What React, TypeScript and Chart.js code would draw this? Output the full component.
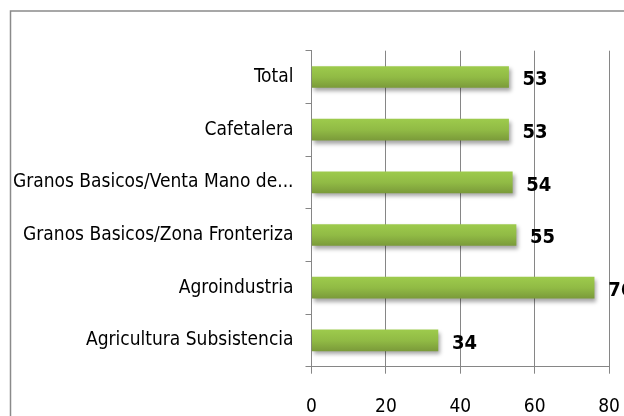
import React, { useEffect, useRef } from "react";
import { Chart, registerables } from "chart.js";
Chart.register(...registerables);

const categories = [
  "Total",
  "Cafetalera",
  "Granos Basicos/Venta Mano de...",
  "Granos Basicos/Zona Fronteriza",
  "Agroindustria",
  "Agricultura Subsistencia",
];
const values = [53, 53, 54, 55, 76, 34];
const xMin = 0;
const xMax = 80;
const xStep = 20;

const FONT = "'Liberation Sans Narrow', 'DejaVu Sans Condensed', 'Arial Narrow', sans-serif";
const AXIS = "#868686";

const framePlugin = {
  id: "frame",
  beforeDraw(chart: any) {
    const ctx = chart.ctx;
    ctx.save();
    ctx.fillStyle = "#ffffff";
    ctx.fillRect(0, 0, chart.width, chart.height);
    ctx.strokeStyle = "#8a8a8a";
    ctx.lineWidth = 1.5;
    ctx.strokeRect(10.5, 11, chart.width + 50, chart.height + 50);
    ctx.restore();
  },
};

const shadowPlugin = {
  id: "barShadow",
  beforeDatasetsDraw(chart: any) {
    const ctx = chart.ctx;
    ctx.save();
    ctx.shadowColor = "rgba(0,0,0,0.35)";
    ctx.shadowBlur = 4;
    ctx.shadowOffsetX = 2;
    ctx.shadowOffsetY = 3;
  },
  afterDatasetsDraw(chart: any) {
    chart.ctx.restore();
  },
};

const labelPlugin = {
  id: "valueLabels",
  afterDatasetsDraw(chart: any) {
    const ctx = chart.ctx;
    const meta = chart.getDatasetMeta(0);
    ctx.save();
    ctx.font = `bold 20px ${FONT}`;
    ctx.fillStyle = "#000";
    ctx.textAlign = "left";
    ctx.textBaseline = "middle";
    meta.data.forEach((el: any, i: number) => {
      ctx.fillText(String(values[i]), el.x + 14, el.y + 3);
    });
    ctx.restore();
  },
};

export default function App() {
  const ref = useRef<HTMLCanvasElement>(null);
  useEffect(() => {
    if (!ref.current) return;
    const chart = new Chart(ref.current, {
      type: "bar",
      data: {
        labels: categories,
        datasets: [
          {
            data: values,
            barThickness: 21,
            borderWidth: 0,
            backgroundColor: (c: any) => {
              const ch = c.chart;
              if (!ch.chartArea || c.dataIndex === undefined || !ch.scales.y) return "#8fb843";
              const y = ch.scales.y.getPixelForValue(c.dataIndex);
              const h = 21;
              const g = ch.ctx.createLinearGradient(0, y - h / 2, 0, y + h / 2);
              g.addColorStop(0, "#9dca4c");
              g.addColorStop(0.5, "#91bb45");
              g.addColorStop(1, "#7b9b3a");
              return g;
            },
          },
        ],
      },
      options: {
        indexAxis: "y",
        animation: false,
        responsive: false,
        devicePixelRatio: 1,
        layout: { padding: { top: 50.7, left: 0, right: 15, bottom: 0 } },
        plugins: {
          legend: { display: false },
          tooltip: { enabled: false },
        },
        scales: {
          x: {
            min: xMin,
            max: xMax,
            ticks: {
              stepSize: xStep,
              color: "#000",
              padding: 22,
              maxRotation: 0,
              font: { family: FONT, size: 19 },
            },
            grid: { color: AXIS, tickLength: 7, lineWidth: 1 },
            border: { color: AXIS, width: 1 },
            afterFit: (s: any) => {
              s.height = 49.3;
              s.paddingLeft = 0;
              s.paddingRight = 0;
            },
          },
          y: {
            ticks: {
              color: "#000",
              padding: 12,
              font: { family: FONT, size: 19 },
            },
            grid: { drawOnChartArea: false, color: AXIS, tickLength: 6, offset: true },
            border: { color: AXIS, width: 1 },
            afterFit: (s: any) => {
              s.width = 311.5;
              s.paddingTop = 0;
              s.paddingBottom = 0;
            },
          },
        },
      },
      plugins: [framePlugin, shadowPlugin, labelPlugin],
    } as any);
    return () => chart.destroy();
  }, []);
  return (
    <div style={{ position: "fixed", left: 0, top: 0, width: 624, height: 416 }}>
      <canvas ref={ref} width={624} height={416} style={{ display: "block" }} />
    </div>
  );
}
